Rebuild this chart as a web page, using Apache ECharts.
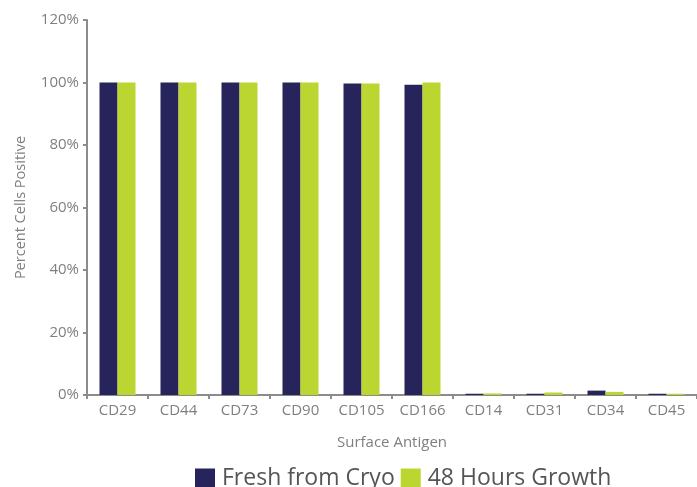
<!DOCTYPE html>
<html><head><meta charset="utf-8">
<script src="https://cdn.jsdelivr.net/npm/echarts@6/dist/echarts.min.js"></script>
<style>html,body{margin:0;padding:0;background:#fff}#c{width:697px;height:487px}</style>
</head><body><div id="c"></div>
<script>
const categories = ['CD29','CD44','CD73','CD90','CD105','CD166','CD14','CD31','CD34','CD45'];
const freshFromCryo = [100, 100, 100, 100, 99.7, 99.3, 0.4, 0.4, 1.4, 0.4];
const hours48Growth = [100, 100, 100, 100, 99.7, 100, 0.5, 0.8, 1.0, 0.4];
const seriesNames = ['Fresh from Cryo', '48 Hours Growth'];
const colors = ['#27245b', '#bcd631'];
const font = '"Open Sans", sans-serif';
const chart = echarts.init(document.getElementById('c'));
chart.setOption({
  animation: false,
  color: colors,
  grid: { left: 87, right: -2, top: 20, bottom: 92, containLabel: false },
  legend: {
    top: 462, left: 190, itemWidth: 20, itemHeight: 20, itemGap: 6,
    icon: 'rect',
    textStyle: { fontFamily: font, fontSize: 23, color: '#555555', padding: [0,0,0,2] },
    data: seriesNames
  },
  xAxis: {
    type: 'category', data: categories,
    name: 'Surface Antigen', nameLocation: 'middle', nameGap: 40,
    nameTextStyle: { fontFamily: font, fontSize: 15, color: '#7f7f7f' },
    axisLine: { lineStyle: { color: '#8c8c8c', width: 2 } },
    axisTick: { show: true, alignWithLabel: false, length: 4, lineStyle: { color: '#8c8c8c', width: 2 } },
    axisLabel: { fontFamily: font, fontSize: 15, color: '#7f7f7f', margin: 8 }
  },
  yAxis: {
    type: 'value', min: 0, max: 120, interval: 20,
    name: 'Percent Cells Positive', nameLocation: 'middle', nameGap: 59,
    nameTextStyle: { fontFamily: font, fontSize: 14.5, color: '#7f7f7f' },
    axisLine: { show: true, lineStyle: { color: '#8c8c8c', width: 2 } },
    axisTick: { show: true, length: 4, lineStyle: { color: '#8c8c8c', width: 2 } },
    splitLine: { show: false },
    axisLabel: { fontFamily: font, fontSize: 15, color: '#7f7f7f', margin: 8, formatter: '{value}%' }
  },
  series: [
    { name: seriesNames[0], type: 'bar', data: freshFromCryo, barWidth: 18, barGap: '0%' },
    { name: seriesNames[1], type: 'bar', data: hours48Growth, barWidth: 18, barGap: '0%' }
  ]
});
</script></body></html>
